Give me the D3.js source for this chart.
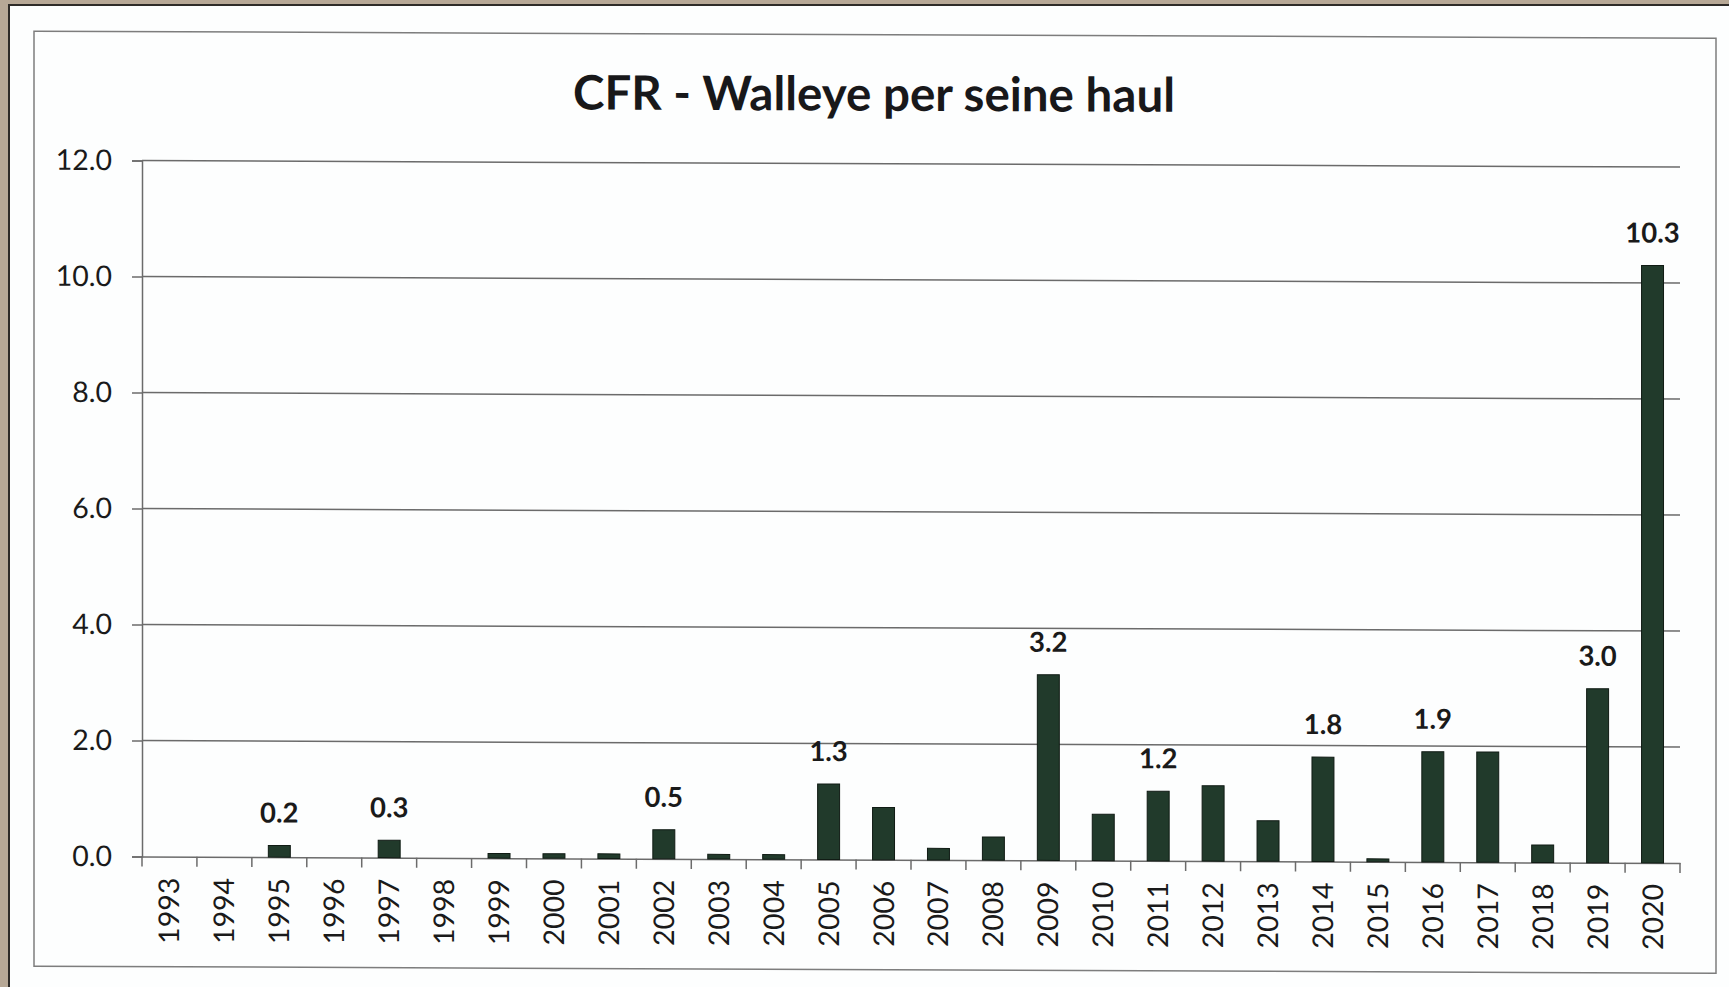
<!DOCTYPE html>
<html>
<head>
<meta charset="utf-8">
<script src="https://cdn.jsdelivr.net/npm/d3@7"></script>
<style>
  body { margin: 0; background: #b7a896; }
  svg { display: block; }
</style>
</head>
<body>
<svg id="chart_svg"></svg>
<script>
const years = ['1993', '1994', '1995', '1996', '1997', '1998', '1999', '2000', '2001', '2002',
               '2003', '2004', '2005', '2006', '2007', '2008', '2009', '2010', '2011', '2012',
               '2013', '2014', '2015', '2016', '2017', '2018', '2019', '2020'];
const walleye = [0, 0, 0.2, 0, 0.3, 0, 0.08, 0.08, 0.08, 0.5,
                 0.08, 0.08, 1.3, 0.9, 0.2, 0.4, 3.2, 0.8, 1.2, 1.3,
                 0.7, 1.8, 0.05, 1.9, 1.9, 0.3, 3.0, 10.3];
const labelled = ['1995', '1997', '2002', '2005', '2009', '2011', '2014', '2016', '2019', '2020'];
const yTicks = [0, 2, 4, 6, 8, 10, 12];
const chartTitle = 'CFR - Walleye per seine haul';

const width = 1729;
const height = 987;
const plotLeft = 142, plotRight = 1680, plotTop = 160, plotBottom = 856;
const barColor = '#213a2b';
const font = 'Lato, Carlito, "Open Sans", sans-serif';

const svg = d3.select('#chart_svg')
    .attr('width', width)
    .attr('height', height);

// scanned page
svg.append('rect')
    .attr('x', 9).attr('y', 5)
    .attr('width', width - 9).attr('height', height - 5)
    .attr('fill', '#fdfefe');
svg.append('path')
    .attr('d', `M9,${height} V5 H${width}`)
    .attr('fill', 'none')
    .attr('stroke', '#2e2b28')
    .attr('stroke-width', 2);

// the scan is slightly tilted
const g = svg.append('g')
    .attr('transform', 'skewY(0.24)');

g.append('rect')
    .attr('x', 34).attr('y', 31)
    .attr('width', 1682).attr('height', 935)
    .attr('fill', 'none')
    .attr('stroke', '#7d7d7d')
    .attr('stroke-width', 1.5);

g.append('text')
    .attr('x', 874)
    .attr('y', 107)
    .attr('text-anchor', 'middle')
    .style('font-family', font)
    .style('font-weight', 'bold')
    .style('font-size', '47.5px')
    .attr('fill', '#18181a')
    .text(chartTitle);

const x = d3.scaleBand()
    .domain(years)
    .range([plotLeft, plotRight])
    .padding(0);

const y = d3.scaleLinear()
    .domain([0, 12])
    .range([plotBottom, plotTop]);

// gridlines + y axis
const gy = g.append('g')
    .attr('transform', `translate(${plotLeft},0)`)
    .call(d3.axisLeft(y)
        .tickValues(yTicks)
        .tickFormat(d3.format('.1f'))
        .tickSize(10)
        .tickPadding(20));
gy.select('.domain').attr('stroke', '#6b6b6b').attr('stroke-width', 1.5);
gy.selectAll('.tick line').attr('stroke', '#6b6b6b').attr('stroke-width', 1.5);
gy.selectAll('.tick text')
    .style('font-family', font)
    .style('font-size', '28.5px')
    .attr('fill', '#1a1a1a');

g.append('g')
    .selectAll('line')
    .data(yTicks.filter(d => d > 0))
    .join('line')
    .attr('x1', plotLeft).attr('x2', plotRight)
    .attr('y1', d => y(d)).attr('y2', d => y(d))
    .attr('stroke', '#6b6b6b')
    .attr('stroke-width', 1.5);

// x axis, ticks between the categories
const gx = g.append('g')
    .attr('transform', `translate(0,${plotBottom})`)
    .call(d3.axisBottom(x).tickSize(0).tickPadding(22));
gx.select('.domain').attr('stroke', '#6b6b6b').attr('stroke-width', 1.5);
gx.selectAll('.tick text')
    .attr('transform', 'rotate(-90)')
    .attr('text-anchor', 'end')
    .attr('x', -21)
    .attr('y', 0)
    .attr('dy', '0.35em')
    .style('font-family', font)
    .style('font-size', '28.5px')
    .attr('fill', '#1a1a1a');

g.append('g')
    .selectAll('line')
    .data(years.concat(['end']))
    .join('line')
    .attr('x1', (d, i) => plotLeft + i * x.step())
    .attr('x2', (d, i) => plotLeft + i * x.step())
    .attr('y1', plotBottom)
    .attr('y2', plotBottom + 10)
    .attr('stroke', '#6b6b6b')
    .attr('stroke-width', 1.5);

const barW = x.bandwidth() * 0.4;

g.append('g')
    .selectAll('rect')
    .data(years.map((yr, i) => ({ year: yr, value: walleye[i] })).filter(d => d.value > 0))
    .join('rect')
    .attr('x', d => x(d.year) + (x.bandwidth() - barW) / 2)
    .attr('y', d => y(d.value))
    .attr('width', barW)
    .attr('height', d => plotBottom - y(d.value))
    .attr('fill', barColor)
    .attr('stroke', '#101b14')
    .attr('stroke-width', 1);

g.append('g')
    .selectAll('text')
    .data(years.map((yr, i) => ({ year: yr, value: walleye[i] })).filter(d => labelled.includes(d.year)))
    .join('text')
    .attr('x', d => x(d.year) + x.bandwidth() / 2)
    .attr('y', d => y(d.value) - 23)
    .attr('text-anchor', 'middle')
    .style('font-family', font)
    .style('font-weight', 'bold')
    .style('font-size', '27.5px')
    .attr('fill', '#1a1a1a')
    .text(d => d3.format('.1f')(d.value));
</script>
</body>
</html>
